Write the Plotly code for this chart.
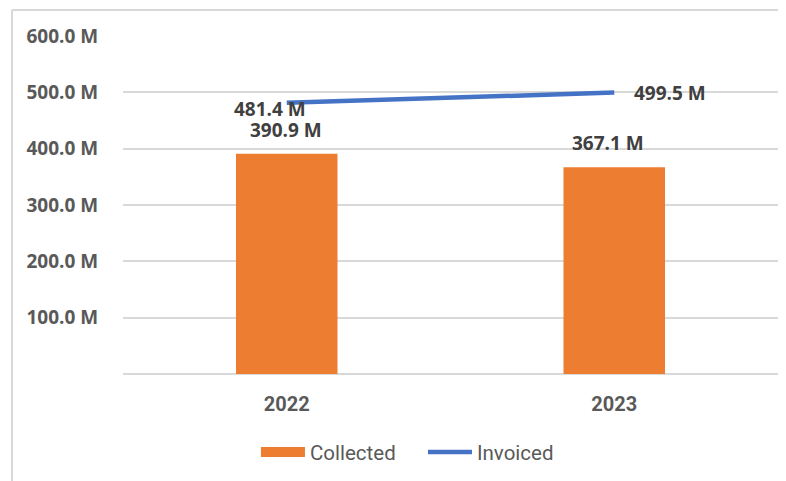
import plotly.graph_objects as go

categories = ["2022", "2023"]
collected = [390.9, 367.1]
invoiced = [481.4, 499.5]
y_ticks = [0, 100, 200, 300, 400, 500, 600]
y_tick_labels = ["", "100.0 M", "200.0 M", "300.0 M", "400.0 M", "500.0 M", "600.0 M"]

ORANGE = "#ED7D31"
BLUE = "#4472C4"
GRID = "#D9D9D9"
TXT = "#595959"
LBL = "#404040"
NUMFONT = "Open Sans"
NARROW = "Roboto, sans-serif"

fig = go.Figure()
fig.add_trace(go.Bar(
    x=categories, y=collected, name="Collected", showlegend=False,
    marker=dict(color=ORANGE, line=dict(width=0)), width=0.31,
))
# legend-only entry to get a wide orange swatch
fig.add_trace(go.Scatter(
    x=[None], y=[None], name="Collected", mode="lines",
    line=dict(color=ORANGE, width=14),
))
fig.add_trace(go.Scatter(
    x=categories, y=invoiced, name="Invoiced", mode="lines",
    line=dict(color=BLUE, width=4.5),
))

lblfont = dict(family=NUMFONT, size=19, color=LBL, weight="bold")
ann = []
for i, v in enumerate(collected):
    ann.append(dict(x=i, y=v, text=f"{v:.1f} M", showarrow=False,
                    xanchor="center", yanchor="bottom", yshift=9,
                    xshift=-1 if i == 0 else -6, font=lblfont))
ann.append(dict(x=0, y=invoiced[0], text=f"{invoiced[0]:.1f} M", showarrow=False,
                xanchor="center", yanchor="middle", xshift=-17, yshift=-6, font=lblfont))
ann.append(dict(x=1, y=invoiced[1], text=f"{invoiced[1]:.1f} M", showarrow=False,
                xanchor="left", yanchor="middle", xshift=18, yshift=0, font=lblfont))

fig.update_layout(
    width=778, height=473,
    margin=dict(l=115, r=8, t=28, b=107),
    paper_bgcolor="white", plot_bgcolor="white",
    showlegend=True,
    legend=dict(orientation="h", x=0.203, xanchor="left", y=-0.231, yanchor="middle",
                font=dict(family=NARROW, size=20.5, color=TXT), itemwidth=44,
                entrywidth=108, entrywidthmode="pixels"),
    annotations=ann,
    xaxis=dict(type="category", range=[-0.5, 1.5], showgrid=False, showline=False,
               ticks="outside", ticklen=12, tickcolor="rgba(0,0,0,0)",
               tickfont=dict(family=NARROW, size=20, color=TXT, weight="bold")),
    yaxis=dict(range=[0, 600], tickvals=y_ticks, ticktext=y_tick_labels,
               showgrid=True, gridcolor=GRID, gridwidth=2,
               zeroline=True, zerolinecolor=GRID, zerolinewidth=2,
               showline=False, ticks="outside", ticklen=20, tickcolor="rgba(0,0,0,0)",
               tickfont=dict(family=NUMFONT, size=19, color=TXT, weight="bold")),
    shapes=[
        dict(type="line", xref="paper", yref="paper", x0=-0.1695, x1=-0.1695, y0=1.077, y1=-0.32,
             line=dict(color=GRID, width=2)),
        dict(type="line", xref="paper", yref="paper", x0=-0.1695, x1=1.02, y0=1.077, y1=1.077,
             line=dict(color=GRID, width=2)),
    ],
)

fig.write_html("out.html")
